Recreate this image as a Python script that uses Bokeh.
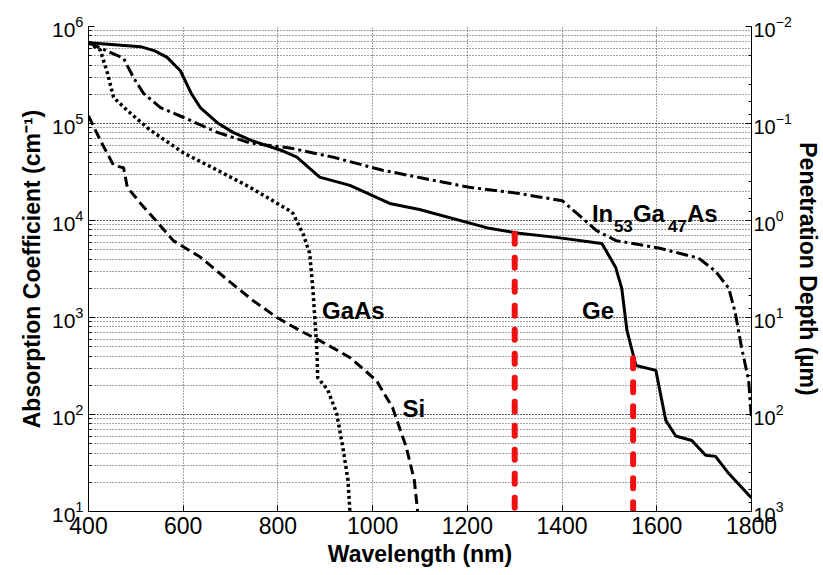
from bokeh.plotting import figure
from bokeh.models import Range1d, LogAxis, LogScale, SingleIntervalTicker, Label
from bokeh.embed import file_html
from bokeh.resources import INLINE

# ---- data ----
ge_nm = [400, 510, 540, 566, 594, 618, 636, 672, 705, 747, 811, 840, 888, 952, 1036, 1099, 1246,
         1309, 1387, 1472, 1484, 1513, 1526, 1537, 1556, 1598, 1619, 1640, 1674, 1703, 1724,
         1752, 1800]
ge_alpha = [6.8e5, 6.2e5, 5.6e5, 4.8e5, 3.5e5, 2.0e5, 1.46e5, 1.02e5, 8.1e4, 6.6e4, 5.2e4, 4.5e4,
            2.8e4, 2.3e4, 1.5e4, 1.3e4, 8.3e3, 7.4e3, 6.7e3, 5.9e3, 5.8e3, 3.3e3, 2.0e3, 735,
            320, 285, 87, 60, 54, 38, 37, 24.6, 13.8]

ingaas_nm = [400, 425, 474, 495, 516, 552, 600, 672, 741, 825, 916, 1021, 1099, 1204, 1309, 1400,
             1442, 1472, 1514, 1604, 1688, 1724, 1752, 1766, 1779, 1794, 1800]
ingaas_alpha = [6.8e5, 6.0e5, 4.7e5, 2.97e5, 2.05e5, 1.46e5, 1.16e5, 8.1e4, 6.3e4, 5.6e4, 4.5e4,
                3.3e4, 2.77e4, 2.2e4, 1.9e4, 1.6e4, 1.07e4, 7.9e3, 6.2e3, 5.2e3, 4.1e3, 3.0e3,
                2.0e3, 1.1e3, 490, 224, 90]

gaas_nm = [400, 425, 440, 453, 482, 531, 600, 672, 741, 825, 832, 853, 867, 874, 882, 884, 905,
           924, 937, 948, 952]
gaas_alpha = [6.8e5, 5.7e5, 3.3e5, 1.86e5, 1.36e5, 8.5e4, 5.0e4, 3.3e4, 2.2e4, 1.26e4, 1.18e4,
              7.3e3, 4.6e3, 1.9e3, 490, 240, 180, 103, 46, 21, 10]

si_nm = [400, 425, 453, 474, 482, 510, 537, 579, 636, 700, 747, 798, 846, 888, 952, 1008, 1042,
         1071, 1088, 1095]
si_alpha = [1.2e5, 6.7e4, 3.7e4, 3.5e4, 2.2e4, 1.5e4, 1.07e4, 6.2e3, 4.2e3, 2.3e3, 1.5e3, 1.0e3,
            735, 580, 387, 224, 118, 46, 21, 10]

marker_nm = [1300, 1550]
marker_top = [7.3e3, 380]
marker_bottom = [10, 10]

FONT = "Liberation Sans"

p = figure(width=823, height=575, x_range=Range1d(400, 1800), y_range=Range1d(10, 1e6),
           y_axis_type="log", output_backend="svg", toolbar_location=None,
           min_border_left=88, min_border_right=70, min_border_top=26, min_border_bottom=64)
p.outline_line_color = None
p.background_fill_color = "white"

# grid
for g in (p.xgrid, p.ygrid):
    g.grid_line_color = "#444444"
    g.grid_line_dash = "1 2"
    g.grid_line_width = 1
p.ygrid.minor_grid_line_color = "#444444"
p.ygrid.minor_grid_line_dash = "1 2"

# x axis
p.xaxis.ticker = SingleIntervalTicker(interval=200, num_minor_ticks=0)
p.xaxis.axis_label = "Wavelength (nm)"

# right axis
p.extra_y_ranges = {"depth": Range1d(start=1e3, end=1e-2)}
p.extra_y_scales = {"depth": LogScale()}
ax_r = LogAxis(y_range_name="depth", axis_label="Penetration Depth (µm)")
p.add_layout(ax_r, "right")
p.yaxis[0].axis_label = "Absorption Coefficient (cm⁻¹)"

for ax in p.axis:
    ax.axis_line_color = "black"
    ax.axis_line_width = 1
    ax.major_tick_in = 6
    ax.major_tick_out = 0
    ax.minor_tick_in = 3
    ax.minor_tick_out = 0
    ax.major_tick_line_color = "black"
    ax.minor_tick_line_color = "black"
    ax.major_label_text_font = FONT
    ax.major_label_text_color = "black"
    ax.major_label_text_font_size = "21px"
    ax.major_label_standoff = 5
    ax.axis_label_text_font = FONT
    ax.axis_label_text_font_style = "bold"
    ax.axis_label_text_font_size = "23px"
    ax.axis_label_text_color = "black"
    ax.axis_label_standoff = 4
p.xaxis.major_label_text_font_size = "23px"
ax_r.major_label_standoff = 2
ax_r.axis_label_standoff = 0
ax_r.major_label_text_font_size = "20px"

# curves
p.line(ge_nm, ge_alpha, line_color="black", line_width=3)
p.line(ingaas_nm, ingaas_alpha, line_color="black", line_width=3, line_dash="12 4 3 4")
p.line(gaas_nm, gaas_alpha, line_color="black", line_width=3.5, line_dash="3 3")
p.line(si_nm, si_alpha, line_color="black", line_width=3, line_dash="10 5")

# red markers
p.segment(x0=marker_nm, y0=marker_top, x1=marker_nm, y1=marker_bottom,
          line_color="#ee1111", line_width=6, line_dash="10 14", line_cap="round")

def lab(x, y, text, size="24px", xo=0, yo=0):
    p.add_layout(Label(x=x, y=y, text=text, x_offset=xo, y_offset=yo,
                       text_font=FONT, text_font_style="bold", text_font_size=size,
                       text_color="black", text_baseline="alphabetic"))

lab(893, 1180, "GaAs")
lab(1442, 1180, "Ge")
lab(1063, 115, "Si")
lab(1463, 1.18e4, "In")
lab(1463, 1.18e4, "53", size="17px", xo=22, yo=-12)
lab(1463, 1.18e4, "Ga", xo=41)
lab(1463, 1.18e4, "47", size="17px", xo=76, yo=-12)
lab(1463, 1.18e4, "As", xo=95)

open("out.html", "w").write(file_html(p, INLINE))
